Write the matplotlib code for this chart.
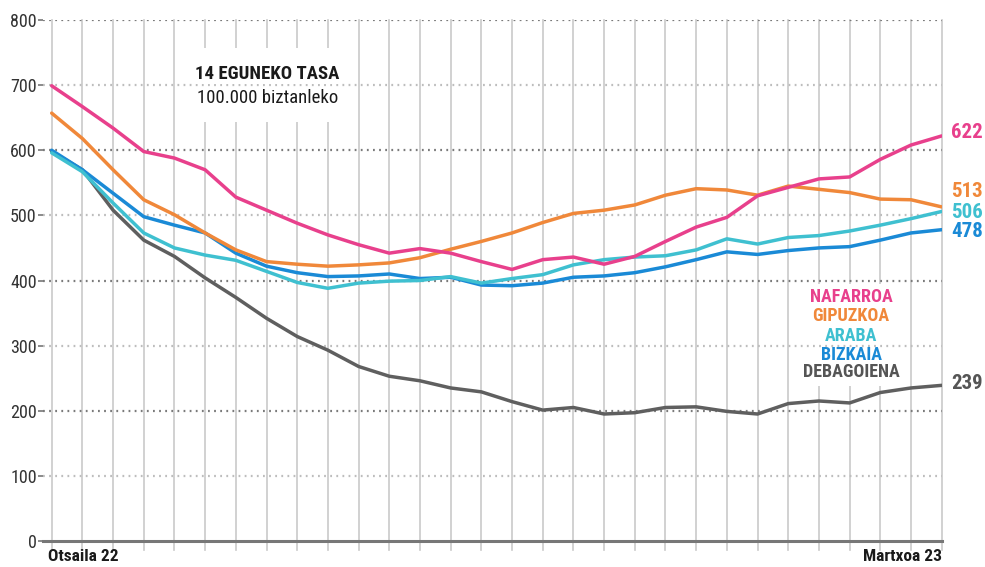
import matplotlib
matplotlib.use("Agg")
import matplotlib.pyplot as plt
from matplotlib import font_manager
from matplotlib.patches import Rectangle
import matplotlib.transforms as mtransforms

# ---------------- data ----------------
days = list(range(30))  # Otsaila 22 .. Martxoa 23, one point per day
x_labels = ["Otsaila 22", "Martxoa 23"]
y_ticks = [0, 100, 200, 300, 400, 500, 600, 700, 800]

nafarroa = [699, 667, 634, 598, 588, 570, 528, 508, 488, 470, 455, 442, 449, 442, 429, 417,
            432, 436, 425, 437, 460, 482, 497, 530, 543, 556, 559, 586, 608, 622]
gipuzkoa = [657, 618, 570, 524, 501, 473, 447, 429, 425, 422, 424, 427, 435, 448, 460, 473,
            489, 503, 508, 516, 531, 541, 539, 531, 545, 540, 535, 525, 524, 513]
araba = [596, 567, 519, 473, 450, 439, 431, 414, 397, 388, 396, 399, 400, 406, 396, 403,
         409, 424, 432, 436, 438, 447, 464, 456, 466, 469, 476, 485, 495, 506]
bizkaia = [600, 570, 534, 498, 485, 473, 442, 422, 412, 406, 407, 410, 403, 405, 393, 392,
           396, 405, 407, 412, 421, 432, 444, 440, 446, 450, 452, 462, 473, 478]
debagoiena = [598, 570, 508, 462, 437, 404, 374, 342, 314, 293, 268, 253, 246, 235, 229, 214,
              201, 205, 195, 197, 205, 206, 199, 195, 211, 215, 212, 228, 235, 239]

names = ["NAFARROA", "GIPUZKOA", "ARABA", "BIZKAIA", "DEBAGOIENA"]
series = [nafarroa, gipuzkoa, araba, bizkaia, debagoiena]
colors = ["#E8408C", "#F0883A", "#3FC0D0", "#1A8AD6", "#5F5F5F"]
end_labels = ["622", "513", "506", "478", "239"]

# ---------------- fonts ----------------
avail = {f.name for f in font_manager.fontManager.ttflist}
cond = None
for cand in ["Roboto Condensed", "Liberation Sans Narrow", "Open Sans Condensed",
             "Noto Sans Condensed", "DejaVu Sans Condensed", "Arial Narrow"]:
    if cand in avail:
        cond = cand
        break
if cond is None:
    cond = "Liberation Sans"
plain = cond

plt.rcParams["lines.scale_dashes"] = False

W, H = 985, 567
fig = plt.figure(figsize=(W / 100, H / 100), dpi=100)
fig.patch.set_facecolor("white")

px_left, px_right = 43.0, 941.7
px_top, px_bottom = 20.0, 541.0
ax = fig.add_axes([px_left / W, (H - px_bottom) / H,
                   (px_right - px_left) / W, (px_bottom - px_top) / H])
ax.set_xlim(-0.283, 29)
ax.set_ylim(0, 800)

for s in ["top", "right", "left"]:
    ax.spines[s].set_visible(False)
ax.spines["bottom"].set_color("#777777")
ax.spines["bottom"].set_linewidth(2.2)
ax.spines["bottom"].set_zorder(6)

ax.set_xticks([])
ax.set_yticks(y_ticks)
ax.set_yticklabels([str(v) for v in y_ticks])
ax.tick_params(axis="y", length=3.5, width=1.2, color="#777777", pad=1,
               labelsize=13, labelcolor="#333333")
for lab in ax.get_yticklabels():
    lab.set_fontfamily(plain)

# vertical day lines (extend slightly below the zero line)
trans_v = mtransforms.blended_transform_factory(ax.transData, ax.transAxes)
for d in days:
    ax.plot([d, d], [-0.018, 1.0], color="#C9C9C9", lw=1.2, transform=trans_v,
            clip_on=False, zorder=1)

# white masks behind title and legend (hide vertical lines)
ax.add_patch(Rectangle((4.12, 644), 5.76, 113, facecolor="white", edgecolor="none", zorder=1.5))
ax.add_patch(Rectangle((24.15, 238), 3.7, 157, facecolor="white", edgecolor="none", zorder=1.5))

# horizontal dotted grid lines
for v in y_ticks[1:]:
    dark = (v % 200 == 0)
    ax.axhline(v, color="#7A7A7A" if dark else "#BDBDBD", lw=1.6,
               linestyle=(0, (1.3, 3.1)), zorder=2)

# series lines
order = [4, 3, 2, 1, 0]
for i in order:
    ax.plot(days, series[i], color=colors[i], lw=2.5, solid_joinstyle="round",
            solid_capstyle="round", zorder=4 + (4 - i) * 0.1)

# end labels
end_y = [628, 536, 504, 475, 242]
for i in range(5):
    ax.text(29.3, end_y[i], end_labels[i], color=colors[i] if i < 4 else "#555555",
            fontsize=15, fontweight="bold", fontfamily=cond, va="center", ha="left",
            clip_on=False, zorder=7)

# legend text
leg_y = [375, 346, 315, 286, 260]
for i in range(5):
    ax.text(26.05, leg_y[i], names[i], color=colors[i] if i < 4 else "#555555",
            fontsize=13, fontweight="bold", fontfamily=cond, ha="center", va="center",
            zorder=7)

# title
ax.text(7.02, 717, "14 EGUNEKO TASA", fontsize=13.5, fontweight="bold", fontfamily=cond,
        color="#1a1a1a", ha="center", va="center", zorder=7,
        bbox=dict(facecolor="white", edgecolor="none", pad=0.5))
ax.text(7.02, 680, "100.000 biztanleko", fontsize=13.5, fontfamily=plain,
        color="#1a1a1a", ha="center", va="center", zorder=7,
        bbox=dict(facecolor="white", edgecolor="none", pad=0.5))

# x labels
xl_y = (541 - 561) / 521.0
ax.text(-0.12, xl_y, x_labels[0], transform=trans_v, fontsize=12.5, fontweight="bold",
        fontfamily=cond, color="#1a1a1a", ha="left", va="baseline", clip_on=False)
ax.text(29.0, xl_y, x_labels[1], transform=trans_v, fontsize=12.5, fontweight="bold",
        fontfamily=cond, color="#1a1a1a", ha="right", va="baseline", clip_on=False)

fig.savefig("out.png", dpi=100, facecolor="white")
